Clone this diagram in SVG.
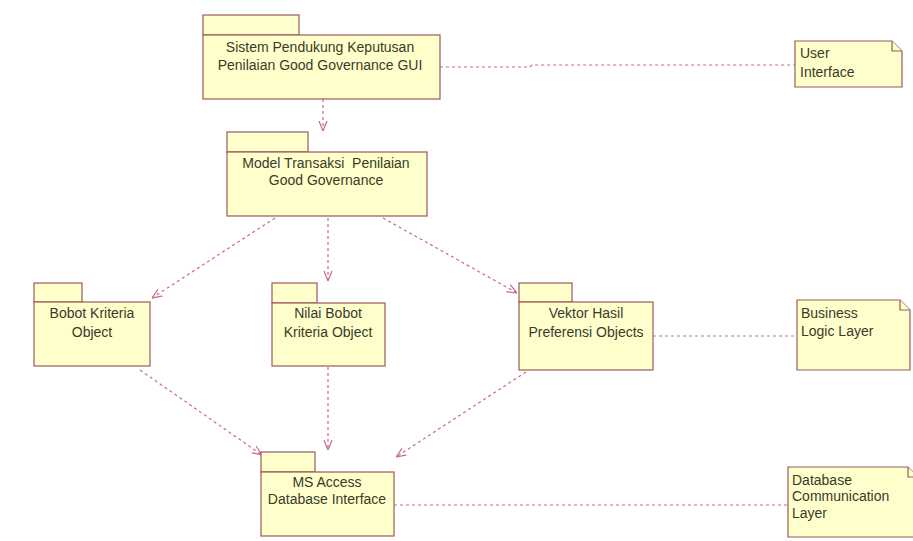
<svg xmlns="http://www.w3.org/2000/svg" width="913" height="541" viewBox="0 0 913 541">
<style>
.pk{fill:#ffffcc;stroke:#9a5a5a;stroke-width:1.2}
.nt{fill:#ffffcc;stroke:#9a5a5a;stroke-width:1.2}
.t{font-family:"Liberation Sans",Arial,sans-serif;font-size:14px;fill:#3a3a2a;text-anchor:middle;white-space:pre}
.tl{font-family:"Liberation Sans",Arial,sans-serif;font-size:14px;fill:#3a3a2a}
.c{fill:none;stroke:#c86a8a;stroke-width:1.2;stroke-dasharray:3,3}
</style>
<defs>
<marker id="ar" viewBox="0 0 10 10" refX="10" refY="5" markerWidth="10" markerHeight="10" orient="auto" markerUnits="userSpaceOnUse">
<path d="M0,1 L10,5 L0,9" fill="none" stroke="#c86a8a" stroke-width="1.2"/>
</marker>
</defs>
<rect width="913" height="541" fill="#ffffff"/>
<g id="connectors">
<line class="c" x1="323" y1="99" x2="323" y2="131" marker-end="url(#ar)"/>
<line class="c" x1="275" y1="218" x2="152" y2="298" marker-end="url(#ar)"/>
<line class="c" x1="328" y1="218" x2="328" y2="281" marker-end="url(#ar)"/>
<line class="c" x1="383" y1="218" x2="517" y2="293" marker-end="url(#ar)"/>
<line class="c" x1="140" y1="370" x2="262" y2="455" marker-end="url(#ar)"/>
<line class="c" x1="328" y1="367" x2="328" y2="450" marker-end="url(#ar)"/>
<line class="c" x1="526" y1="372" x2="396" y2="457" marker-end="url(#ar)"/>
<polyline class="c" points="440,67 530,67 532,65 795,65"/>
<line class="c" x1="653" y1="336" x2="797" y2="336"/>
<line class="c" x1="394" y1="505" x2="788" y2="505"/>
</g>
<g id="gui">
<rect class="pk" x="203" y="15" width="96" height="20"/>
<rect class="pk" x="203" y="35" width="237" height="64"/>
<text class="t" x="320" y="52">Sistem Pendukung Keputusan</text>
<text class="t" x="320" y="70">Penilaian Good Governance GUI</text>
</g>
<g id="model">
<rect class="pk" x="227" y="132" width="81" height="20"/>
<rect class="pk" x="227" y="152" width="200" height="64"/>
<text class="t" x="326" y="168" xml:space="preserve">Model Transaksi  Penilaian</text>
<text class="t" x="326" y="185">Good Governance</text>
</g>
<g id="bobot">
<rect class="pk" x="34" y="283" width="48" height="19"/>
<rect class="pk" x="34" y="302" width="116" height="64"/>
<text class="t" x="92" y="318">Bobot Kriteria</text>
<text class="t" x="92" y="337">Object</text>
</g>
<g id="nilai">
<rect class="pk" x="272" y="283" width="45" height="20"/>
<rect class="pk" x="272" y="303" width="113" height="63"/>
<text class="t" x="328" y="318">Nilai Bobot</text>
<text class="t" x="328" y="337">Kriteria Object</text>
</g>
<g id="vektor">
<rect class="pk" x="519" y="283" width="53" height="19"/>
<rect class="pk" x="519" y="302" width="134" height="68"/>
<text class="t" x="586" y="318">Vektor Hasil</text>
<text class="t" x="586" y="337">Preferensi Objects</text>
</g>
<g id="msaccess">
<rect class="pk" x="261" y="452" width="54" height="20"/>
<rect class="pk" x="261" y="472" width="133" height="64"/>
<text class="t" x="327" y="487">MS Access</text>
<text class="t" x="327" y="504">Database Interface</text>
</g>
<g id="note-ui">
<path class="nt" d="M795,41 H892 L902,51 V87 H795 Z"/>
<path class="nt" d="M892,41 V51 H902" fill="none"/>
<text class="tl" x="800" y="58">User</text>
<text class="tl" x="800" y="77">Interface</text>
</g>
<g id="note-bl">
<path class="nt" d="M797,300 H900 L910,310 V370 H797 Z"/>
<path class="nt" d="M900,300 V310 H910" fill="none"/>
<text class="tl" x="801" y="318">Business</text>
<text class="tl" x="801" y="336">Logic Layer</text>
</g>
<g id="note-db">
<path class="nt" d="M788,467 H908 L918,477 V537 H788 Z"/>
<path class="nt" d="M908,467 V477 H918" fill="none"/>
<text class="tl" x="792" y="485">Database</text>
<text class="tl" x="792" y="501">Communication</text>
<text class="tl" x="792" y="518">Layer</text>
</g>
</svg>
